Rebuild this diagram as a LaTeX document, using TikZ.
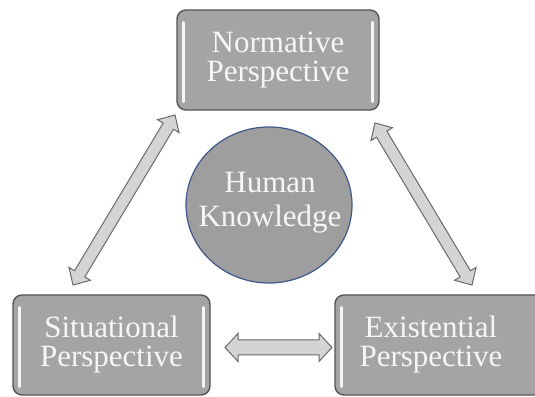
\documentclass[tikz,border=0pt]{standalone}
\usepackage{fontspec}
\setmainfont{Liberation Serif}
\usetikzlibrary{calc,shapes.geometric}
\definecolor{boxfill}{RGB}{164,164,164}
\definecolor{boxline}{RGB}{85,85,85}
\definecolor{circfill}{RGB}{158,158,158}
\definecolor{circline}{RGB}{62,88,140}
\definecolor{arrfill}{RGB}{212,212,212}
\definecolor{arrline}{RGB}{105,105,105}
\definecolor{txt}{RGB}{246,246,246}
\newcommand\dblarr[4]{%
  \coordinate (#1-h) at ($(#1)!13pt!(#2)$);
  \coordinate (#2-h) at ($(#2)!13pt!(#1)$);
  \draw[arrowstyle] (#1) -- ($(#1-h)!#4!90:(#2)$) -- ($(#1-h)!#3!90:(#2)$)
    -- ($(#2-h)!#3!-90:(#1)$) -- ($(#2-h)!#4!-90:(#1)$) -- (#2)
    -- ($(#2-h)!#4!90:(#1)$) -- ($(#2-h)!#3!90:(#1)$)
    -- ($(#1-h)!#3!-90:(#2)$) -- ($(#1-h)!#4!-90:(#2)$) -- cycle;}
\tikzset{
  perspbox/.style={draw=boxline, fill=boxfill, line width=1.4pt, rounded corners=9pt,
    inner sep=0pt, text=txt, align=center, font=\fontsize{31}{29}\selectfont},
  boxtext/.style={text=txt, align=center, inner sep=0pt, font=\fontsize{31}{29}\selectfont},
  humancirc/.style={ellipse, draw=circline, fill=circfill, line width=1.2pt, inner sep=0pt,
    minimum width=166pt, minimum height=156pt},
  humantext/.style={text=txt, align=center, inner sep=0pt, font=\fontsize{31}{34}\selectfont},
  strip/.style={draw=white!92!gray, line width=2.6pt, line cap=round},
  arrowstyle/.style={draw=arrline, fill=arrfill, line width=1pt, line join=miter}
}
\begin{document}
\begin{tikzpicture}[x=1pt,y=1pt]
\useasboundingbox (0,0) rectangle (535,396);
\begin{scope}
\clip (0,0) rectangle (535,396);
% boxes
\node[perspbox, minimum width=202pt, minimum height=100pt] (normative) at (278,336) {Normative\\Perspective};
\node[perspbox, minimum width=197pt, minimum height=100pt] (situational) at (111.5,51) {Situational\\Perspective};
\node[perspbox, minimum width=210pt, minimum height=100pt] (existential) at (440,51) {};
\node[boxtext] (existentialtext) at (431,51) {Existential\\Perspective};
% highlight strips
\draw[strip] ($(normative.north west)+(7,-13)$) -- ($(normative.south west)+(7,9)$);
\draw[strip] ($(normative.north east)+(-7,-13)$) -- ($(normative.south east)+(-7,9)$);
\draw[strip] ($(situational.north west)+(7,-13)$) -- ($(situational.south west)+(7,9)$);
\draw[strip] ($(situational.north east)+(-7,-13)$) -- ($(situational.south east)+(-7,9)$);
\draw[strip] ($(existential.north west)+(7,-13)$) -- ($(existential.south west)+(7,9)$);
% circle
\node[humancirc] (human) at (269,191) {};
\node[humantext] (humanlabel) at (270,193) {Human\\Knowledge};
% arrows
\coordinate (la1) at (175,281);
\coordinate (la2) at (73,111);
\coordinate (ra1) at (375,273);
\coordinate (ra2) at (472,111);
\coordinate (ha1) at (225,48.5);
\coordinate (ha2) at (332,48.5);
\dblarr{la1}{la2}{6pt}{12.5pt}
\dblarr{ra1}{ra2}{6pt}{12.5pt}
\dblarr{ha1}{ha2}{7.5pt}{14pt}
\end{scope}
\end{tikzpicture}
\end{document}
